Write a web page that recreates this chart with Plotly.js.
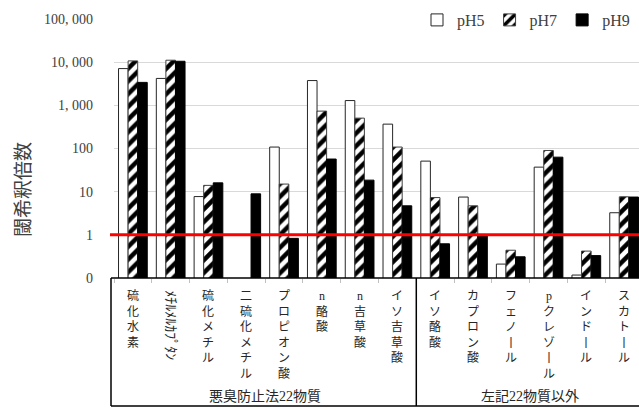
<!DOCTYPE html>
<html><head><meta charset="utf-8">
<script src="https://cdn.plot.ly/plotly-3.0.1.min.js"></script>
<style>html,body{margin:0;padding:0;overflow:hidden;background:#fff}</style>
</head><body><div id="chart"></div>
<script>
const categories = ['硫化水素','ﾒﾁﾙﾒﾙｶﾌﾟﾀﾝ','硫化メチル','二硫化メチル','プロピオン酸','n酪酸','n吉草酸','イソ吉草酸',
                    'イソ酪酸','カプロン酸','フェノール','pクレゾール','インドール','スカトール'];
const groupNames = ['悪臭防止法22物質','左記22物質以外'];
const groupSizes = [8, 6];
const seriesNames = ['pH5','pH7','pH9'];
const pH5 = [7100, 4200, 7.7, null, 108, 3750, 1290, 367, 51, 7.5, 0.21, 37, 0.117, 3.25];
const pH7 = [10700, 11100, 14, null, 15, 735, 505, 108, 7.3, 4.7, 0.44, 90, 0.42, 7.6];
const pH9 = [3400, 10500, 16, 8.9, 0.83, 57, 18.5, 4.7, 0.62, 1.0, 0.31, 63, 0.33, 7.5];
const yTickVals = [0.1, 1, 10, 100, 1000, 10000, 100000];
const yTickText = ['0', '1', '10', '100', '1, 000', '10, 000', '100, 000'];
const thresholdValue = 1;
const yTitle = '閾希釈倍数';

const serif = "'Liberation Serif', 'DejaVu Serif', serif";
const cjk = "'Liberation Serif', 'Noto Sans CJK JP', serif";
const txtColor = '#262626';

const W = 643, H = 410, L = 114, T = 19, PW = 529, PH = 259;
const px2x = p => (p - L) / PW;
const px2y = p => (T + PH - p) / PH;

const traces = [
  {type:'bar', name:seriesNames[0], x:categories, y:pH5,
   marker:{color:'#ffffff', line:{color:'#262626', width:1}}},
  {type:'bar', name:seriesNames[1], x:categories, y:pH7,
   marker:{color:'#ffffff', line:{color:'#404040', width:1},
           pattern:{shape:'/', fgcolor:'#000000', bgcolor:'#ffffff', size:9, solidity:0.5}}},
  {type:'bar', name:seriesNames[2], x:categories, y:pH9,
   marker:{color:'#000000', line:{color:'#000000', width:1}}}
];

const annotations = [];
categories.forEach(c => {
  const halfKana = /[\uFF61-\uFF9F]/.test(c);
  if (halfKana) {
    annotations.push({xref:'x', x:c, yref:'paper', y:px2y(288), yanchor:'top', xanchor:'center',
      text:c, textangle:90, showarrow:false, font:{family:cjk, size:14, color:txtColor}});
  } else {
    const t = Array.from(c).map(ch => ch === 'ー' ? '丨' : ch).join('<br>');
    annotations.push({xref:'x', x:c, yref:'paper', y:px2y(287), yanchor:'top', xanchor:'center',
      text:t, showarrow:false, font:{family:cjk, size:12, color:txtColor}});
  }
});
let start = 0;
groupNames.forEach((g, i) => {
  const end = start + groupSizes[i] - 1;
  annotations.push({xref:'x', x:(start + end) / 2, yref:'paper', y:px2y(396), yanchor:'middle',
    text:g, showarrow:false, font:{family:cjk, size:14, color:txtColor}});
  start = end + 1;
});
annotations.push({xref:'paper', x:px2x(23), yref:'paper', y:px2y(190), xanchor:'center', yanchor:'middle',
  text:yTitle, textangle:-90, showarrow:false, font:{family:cjk, size:19, color:'#404040'}});

const boxBottom = px2y(406);
const xl = px2x(111);
const shapes = [
  {type:'line', xref:'paper', x0:xl, x1:1, yref:'paper', y0:0, y1:0, line:{color:'#000', width:1.5}},
  {type:'line', xref:'paper', x0:xl, x1:xl, yref:'paper', y0:0, y1:boxBottom, line:{color:'#000', width:1.5}},
  {type:'line', xref:'x', x0:groupSizes[0]-0.5, x1:groupSizes[0]-0.5, yref:'paper', y0:0, y1:boxBottom, line:{color:'#000', width:1.5}},
  {type:'line', xref:'paper', x0:xl, x1:1, yref:'paper', y0:boxBottom, y1:boxBottom, line:{color:'#000', width:1.5}},
  {type:'line', xref:'paper', x0:px2x(110), x1:1, yref:'y', y0:thresholdValue, y1:thresholdValue, line:{color:'#ff0000', width:3}, layer:'above'}
];

const layout = {
  width:W, height:H, margin:{l:L, r:W-L-PW, t:T, b:H-T-PH, pad:0},
  paper_bgcolor:'#fff', plot_bgcolor:'#fff',
  barmode:'group', bargap:0.24, bargroupgap:0,
  showlegend:true,
  legend:{orientation:'h', x:px2x(417), xanchor:'left', y:px2y(20), yanchor:'middle',
          bgcolor:'#fff', font:{family:serif, size:16, color:'#404040'}, traceorder:'normal'},
  xaxis:{type:'category', range:[-0.5, categories.length - 0.5], showticklabels:false,
         ticks:'outside', tickson:'boundaries', ticklen:4, tickcolor:'#c0c0c0', showgrid:false,
         showline:false, zeroline:false, fixedrange:true},
  yaxis:{type:'log', range:[-1, 5], tickvals:yTickVals, ticktext:yTickText, ticks:'',
         ticklabelstandoff:20, tickfont:{family:serif, size:14, color:'#404040'},
         gridcolor:'#d9d9d9', gridwidth:1, showline:false, zeroline:false, fixedrange:true},
  annotations:annotations, shapes:shapes
};

Plotly.newPlot('chart', traces, layout, {displayModeBar:false, staticPlot:true});
</script></body></html>
